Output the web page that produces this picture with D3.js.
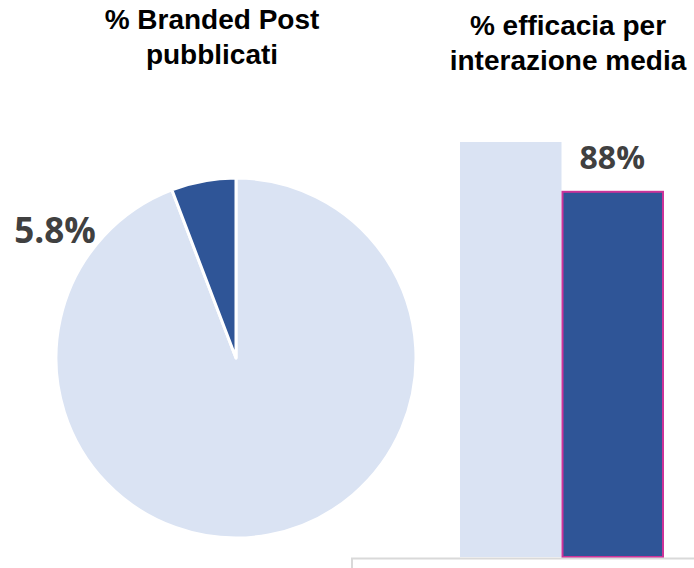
<!DOCTYPE html>
<html><head><meta charset="utf-8">
<script src="https://cdn.jsdelivr.net/npm/d3@7"></script>
<style>body{margin:0;background:#fff}svg{display:block}</style>
</head><body>
<svg id="c" width="694" height="568"></svg>
<script>
// Data
const pieCategories = ["Altri post", "Branded Post"];
const pieValues = [94.2, 5.8];
const pieLabels = ["", "5.8%"];
const barCategories = ["Media", "Branded"];
const barValues = [100, 88];
const barLabels = ["", "88%"];
const titleLeft = ["% Branded Post", "pubblicati"];
const titleRight = ["% efficacia per", "interazione media"];

const light = "#DAE3F3", dark = "#2F5597";
const svg = d3.select("#c");

// Titles
function title(lines, cx, y0) {
  const t = svg.append("text").attr("text-anchor", "middle")
    .attr("font-family", "'Liberation Sans', Arial, sans-serif")
    .attr("font-weight", "bold").attr("font-size", 28).attr("fill", "#000");
  lines.forEach((l, i) => t.append("tspan").attr("x", cx).attr("y", y0 + i * 35).text(l));
}
title(titleLeft, 212, 29);
title(titleRight, 568, 35);

// Pie
const cx = 236, cy = 358, r = 180;
const pie = d3.pie().sort(null).value(d => d)(pieValues);
const arc = d3.arc().innerRadius(0).outerRadius(r);
const g = svg.append("g").attr("transform", `translate(${cx},${cy})`);
g.selectAll("path").data(pie).join("path")
  .attr("d", arc)
  .attr("fill", (d, i) => i === 0 ? light : dark)
  .attr("stroke", "#fff").attr("stroke-width", 3).attr("stroke-linejoin", "round");
svg.append("text").attr("x", 55).attr("y", 243).attr("text-anchor", "middle")
  .attr("font-family", "'Open Sans', sans-serif").attr("font-weight", "bold")
  .attr("font-size", 35).attr("fill", "#404040").text(pieLabels[1]);

// Bars
const x = d3.scaleBand().domain(barCategories).range([460, 663]).padding(0);
const y = d3.scaleLinear().domain([0, 100]).range([557, 142]);
svg.selectAll("rect.bar").data(barValues).join("rect").attr("class", "bar")
  .attr("x", (d, i) => x(barCategories[i]) + (i === 1 ? 1 : 0))
  .attr("width", (d, i) => x.bandwidth() - (i === 1 ? 1 : 0))
  .attr("y", d => y(d))
  .attr("height", d => y(0) - y(d))
  .attr("fill", (d, i) => i === 0 ? light : dark)
  .attr("stroke", (d, i) => i === 1 ? "#CC3399" : "none")
  .attr("stroke-width", 2);
svg.selectAll("text.bl").data(barValues).join("text").attr("class", "bl")
  .attr("x", (d, i) => x(barCategories[i]) + x.bandwidth() / 2)
  .attr("y", d => y(d) - 23)
  .attr("text-anchor", "middle")
  .attr("font-family", "'Open Sans', sans-serif").attr("font-weight", "bold")
  .attr("font-size", 32).attr("fill", "#404040")
  .text((d, i) => barLabels[i]);

// Axis baseline
svg.append("path").attr("d", "M352,568V558.5H694").attr("fill", "none")
  .attr("stroke", "#D9D9D9").attr("stroke-width", 2);
</script>
</body></html>
